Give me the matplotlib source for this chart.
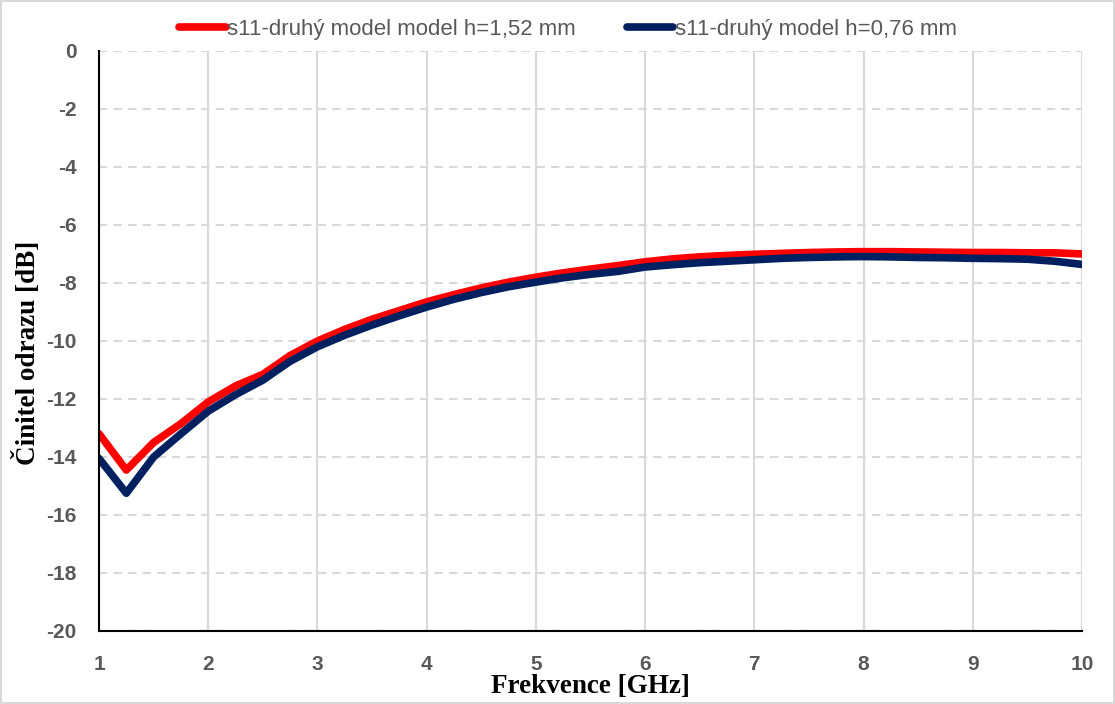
import numpy as np
import matplotlib.pyplot as plt

plt.rcParams['axes.unicode_minus'] = False

freq = [1.0, 1.25, 1.5, 1.75, 2.0, 2.25, 2.5, 2.75, 3.0, 3.25, 3.5, 3.75, 4.0,
        4.25, 4.5, 4.75, 5.0, 5.25, 5.5, 5.75, 6.0, 6.25, 6.5, 6.75, 7.0,
        7.25, 7.5, 7.75, 8.0, 8.25, 8.5, 8.75, 9.0, 9.25, 9.5, 9.75, 10.0]

s11_152 = [-13.2, -14.45, -13.5, -12.85, -12.1, -11.55, -11.15, -10.5, -10.0,
           -9.6, -9.25, -8.95, -8.65, -8.4, -8.17, -7.97, -7.8, -7.65, -7.52,
           -7.4, -7.27, -7.17, -7.1, -7.05, -7.01, -6.98, -6.95, -6.93, -6.92,
           -6.92, -6.93, -6.94, -6.95, -6.95, -6.96, -6.96, -7.0]

s11_076 = [-14.05, -15.25, -14.0, -13.2, -12.42, -11.85, -11.35, -10.7, -10.2,
           -9.8, -9.45, -9.13, -8.83, -8.56, -8.33, -8.13, -7.97, -7.82, -7.7,
           -7.6, -7.45, -7.37, -7.3, -7.25, -7.2, -7.15, -7.12, -7.1, -7.09,
           -7.1, -7.12, -7.13, -7.15, -7.16, -7.18, -7.25, -7.36]

labels = ['s11-druhý model model h=1,52 mm', 's11-druhý model h=0,76 mm']

fig = plt.figure(figsize=(11.15, 7.04), dpi=100)
fig.patch.set_edgecolor('#d9d9d9')
fig.patch.set_linewidth(1.5)
ax = fig.add_axes([0.0888, 0.1037, 0.8816, 0.8239])

ax.plot(freq, s11_152, color='#ff0000', lw=5.5, label=labels[0], solid_capstyle='round')
ax.plot(freq, s11_076, color='#002060', lw=5.5, label=labels[1], solid_capstyle='round')

ax.set_xlim(1, 10)
ax.set_ylim(-20, 0)
ax.set_xticks(np.arange(1, 11, 1))
ax.set_yticks(np.arange(-20, 1, 2))

ax.xaxis.grid(True, color='#d9d9d9', lw=1.5, ls='-')
ax.yaxis.grid(True, color='#d9d9d9', lw=1.5, ls=(0, (4, 3)))
ax.set_axisbelow(True)

for s in ['top', 'right']:
    ax.spines[s].set_visible(False)
for s in ['left', 'bottom']:
    ax.spines[s].set_color('black')
    ax.spines[s].set_linewidth(1.5)

ax.tick_params(length=0, pad=16, colors='#595959', labelsize=15)
for t in ax.get_xticklabels() + ax.get_yticklabels():
    t.set_fontweight('bold')
    t.set_family('Liberation Sans')
ax.tick_params(axis='x', pad=17)

ax.set_xlabel('Frekvence [GHz]', family='Liberation Serif', fontweight='bold',
              fontsize=19.5, labelpad=0)
ax.set_ylabel('Činitel odrazu [dB]', family='Liberation Serif', fontweight='bold',
              fontsize=19.5)
ax.yaxis.set_label_coords(-0.059, 0.48)

leg = ax.legend(loc='center', bbox_to_anchor=(0.477, 1.037), ncol=2, frameon=False,
                handlelength=2.1, handletextpad=0.05, columnspacing=2.3,
                prop={'family': 'Liberation Sans', 'size': 16})
for t in leg.get_texts():
    t.set_color('#595959')

fig.savefig('out.png', dpi=100)
